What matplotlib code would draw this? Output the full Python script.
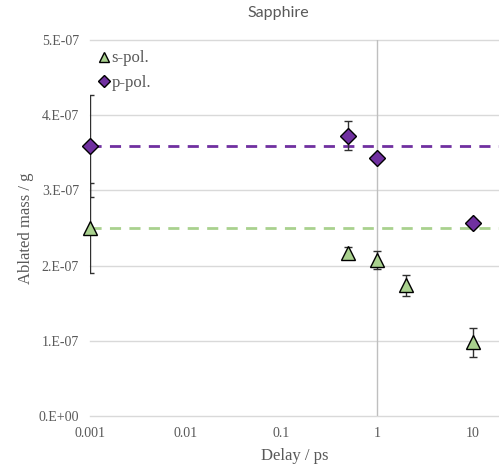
import matplotlib
matplotlib.use("Agg")
import matplotlib.pyplot as plt
from matplotlib.ticker import FixedLocator, NullLocator

# delay (ps) and ablated mass (g) per polarisation
s_delay = [0.001, 0.5, 1, 2, 10]
s_mass = [2.50e-7, 2.17e-7, 2.08e-7, 1.74e-7, 0.98e-7]
s_err = [0.60e-7, 0.08e-7, 0.12e-7, 0.14e-7, 0.19e-7]

p_delay = [0.001, 0.5, 1, 10]
p_mass = [3.59e-7, 3.73e-7, 3.43e-7, 2.57e-7]
p_err = [0.68e-7, 0.19e-7, 0.0, 0.0]

x_ticks = [0.001, 0.01, 0.1, 1, 10]
x_labels = ["0.001", "0.01", "0.1", "1", "10"]
y_ticks = [0, 1e-7, 2e-7, 3e-7, 4e-7, 5e-7]
y_labels = ["0.E+00", "1.E-07", "2.E-07", "3.E-07", "4.E-07", "5.E-07"]

green = "#a9d18e"
purple = "#7030a0"
grey_txt = "#595959"
serif = "Liberation Serif"

fig = plt.figure(figsize=(4.99, 4.67), dpi=100)
ax = fig.add_axes([90 / 499, 51 / 467, 409 / 499, 376 / 467])

ax.set_xscale("log")
ax.set_xlim(0.001, 18.7)
ax.set_ylim(0, 5e-7)

for sp in ax.spines.values():
    sp.set_visible(False)

ax.yaxis.grid(True, color="#d9d9d9", lw=1)
ax.set_axisbelow(True)
for gl in ax.get_ygridlines():
    gl.set_clip_on(False)
ax.axvline(1, color="#bfbfbf", lw=1, zorder=1)

# reference levels taken from the shortest delay
ax.axhline(p_mass[0], color=purple, lw=2, ls=(0, (4, 3)), zorder=2)
ax.axhline(s_mass[0], color=green, lw=2, ls=(0, (4, 3)), zorder=2)

ax.errorbar(s_delay, s_mass, yerr=s_err, fmt="none", ecolor="#303030",
            elinewidth=1, capsize=3, capthick=1, zorder=3)
ax.errorbar(p_delay, p_mass, yerr=p_err, fmt="none", ecolor="#303030",
            elinewidth=1, capsize=3, capthick=1, zorder=3)

ax.plot(s_delay, s_mass, ls="none", marker="^", ms=10, mfc=green,
        mec="black", mew=1, zorder=4, label="s-pol.", clip_on=False)
ax.plot(p_delay, p_mass, ls="none", marker="D", ms=8, mfc=purple,
        mec="black", mew=1, zorder=4, label="p-pol.", clip_on=False)

ax.xaxis.set_major_locator(FixedLocator(x_ticks))
ax.xaxis.set_minor_locator(NullLocator())
ax.set_xticklabels(x_labels)
ax.set_yticks(y_ticks)
ax.set_yticklabels(y_labels)
ax.tick_params(length=0, pad=8, labelsize=10, labelcolor=grey_txt)
for lab in ax.get_xticklabels() + ax.get_yticklabels():
    lab.set_family(serif)

ax.set_xlabel("Delay / ps", family=serif, fontsize=12, color=grey_txt, labelpad=6)
ax.set_ylabel("Ablated mass / g", family=serif, fontsize=12, color=grey_txt, labelpad=3)

leg = ax.legend(loc="upper left", bbox_to_anchor=(-0.015, 1.012), frameon=False,
                prop={"family": serif, "size": 12}, handlelength=0.6,
                handletextpad=0.15, labelspacing=0.5, markerscale=0.75)
for t in leg.get_texts():
    t.set_color(grey_txt)

fig.text(278 / 499, 1 - 13 / 467, "Sapphire", ha="center", va="center",
         family="Lato", fontsize=11.5, color=grey_txt)

fig.savefig("out.png", dpi=100)
